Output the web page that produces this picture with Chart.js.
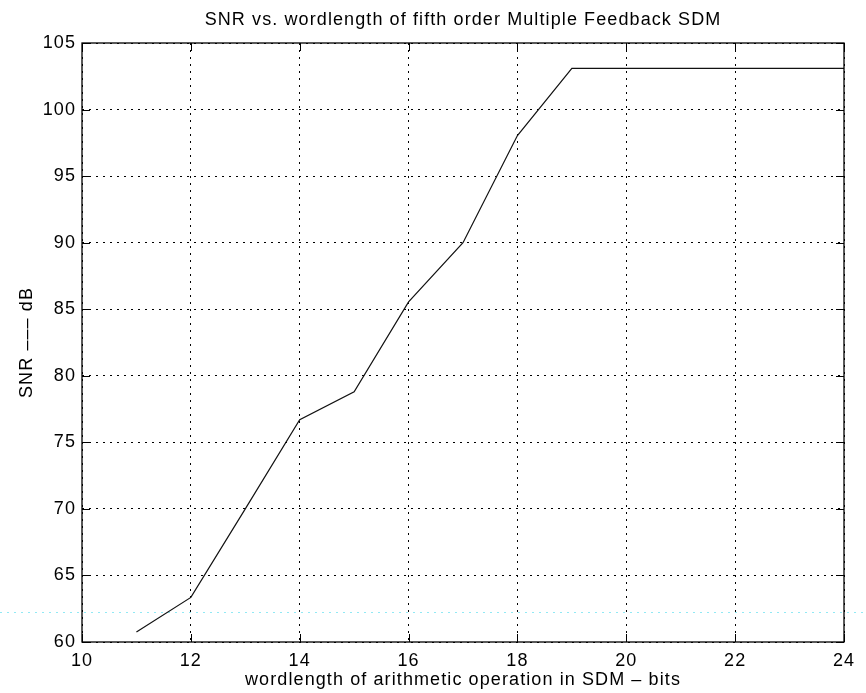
<!DOCTYPE html>
<html>
<head>
<meta charset="utf-8">
<script src="https://cdn.jsdelivr.net/npm/chart.js@4/dist/chart.umd.min.js"></script>
<style>
  html, body { margin: 0; padding: 0; background: #fff; }
  #wrap { width: 866px; height: 693px; }
</style>
</head>
<body>
<div id="wrap"><canvas id="snrChart"></canvas></div>
<script>
// --- dados ---
const wordlengths = [11, 12, 13, 14, 15, 16, 17, 18, 19, 20, 21, 22, 23, 24];
const snrValues = [60.75, 63.35, 70.0, 76.7, 78.8, 85.55, 90.0, 98.05, 103.1, 103.1, 103.1, 103.1, 103.1, 103.1];
const xTicks = [10, 12, 14, 16, 18, 20, 22, 24];
const yTicks = [60, 65, 70, 75, 80, 85, 90, 95, 100, 105];
const scanArtifactLevel = 62.25; // linha ciano clarinha da digitalização

const FONT = "'Liberation Sans', Arial, Helvetica, sans-serif";

// moldura + marcas de escala para dentro (estilo MATLAB)
const matlabBox = {
  id: 'matlabBox',
  beforeInit(chart) {
    chart.ctx.letterSpacing = '1.1px'; // fonte do original é mais espaçada
  },
  beforeDraw(chart) {
    const { ctx, scales: { y }, width } = chart;
    ctx.letterSpacing = '1.1px';
    const yy = Math.round(y.getPixelForValue(scanArtifactLevel)) + 0.5;
    ctx.save();
    ctx.strokeStyle = 'rgba(110, 225, 240, 0.75)';
    ctx.lineWidth = 1;
    ctx.setLineDash([2, 5]);
    ctx.beginPath();
    ctx.moveTo(0, yy);
    ctx.lineTo(width, yy);
    ctx.stroke();
    ctx.restore();
  },
  afterDatasetsDraw(chart) {
    const { ctx, chartArea: a, scales: { x, y } } = chart;
    const len = 8;
    ctx.save();
    ctx.strokeStyle = '#000';
    ctx.lineWidth = 1;
    ctx.setLineDash([]);
    ctx.beginPath();
    xTicks.forEach(v => {
      const px = Math.round(x.getPixelForValue(v)) + 0.5;
      ctx.moveTo(px, a.bottom); ctx.lineTo(px, a.bottom - len);
      ctx.moveTo(px, a.top); ctx.lineTo(px, a.top + len);
    });
    yTicks.forEach(v => {
      const py = Math.round(y.getPixelForValue(v)) + 0.5;
      ctx.moveTo(a.left, py); ctx.lineTo(a.left + len, py);
      ctx.moveTo(a.right, py); ctx.lineTo(a.right - len, py);
    });
    ctx.stroke();
    ctx.lineWidth = 1.3;
    ctx.strokeRect(a.left, a.top, a.right - a.left, a.bottom - a.top);
    ctx.restore();
  }
};

const ctx = document.getElementById('snrChart').getContext('2d');
const chart = new Chart(ctx, {
  type: 'line',
  data: {
    datasets: [{
      data: wordlengths.map((w, i) => ({ x: w, y: snrValues[i] })),
      borderColor: '#111',
      borderWidth: 1.2,
      pointRadius: 0,
      tension: 0,
      fill: false
    }]
  },
  options: {
    responsive: true,
    maintainAspectRatio: false,
    animation: false,
    layout: { padding: { left: 0, right: 22, top: 0, bottom: 0 } },
    plugins: {
      legend: { display: false },
      tooltip: { enabled: false },
      title: {
        display: true,
        fullSize: false, // centra o título sobre a área dos eixos
        text: 'SNR vs. wordlength of fifth order Multiple Feedback SDM',
        color: '#000',
        font: { family: FONT, size: 18, weight: 'normal', lineHeight: 1.2 },
        padding: { top: 9, bottom: 12.4 }
      }
    },
    scales: {
      x: {
        type: 'linear',
        min: 10, max: 24,
        afterBuildTicks: s => { s.ticks = xTicks.map(v => ({ value: v })); },
        afterFit: s => { s.height = 51; },
        grid: { color: '#000', drawTicks: false, lineWidth: 1 },
        border: { display: false, dash: [2, 5] },
        ticks: { color: '#000', padding: 8, maxRotation: 0, font: { family: FONT, size: 18 } },
        title: {
          display: true,
          text: 'wordlength of arithmetic operation in SDM \u2013 bits',
          color: '#000',
          font: { family: FONT, size: 18, lineHeight: 1.2 },
          padding: { top: 0, bottom: 2.2 }
        }
      },
      y: {
        type: 'linear',
        min: 60, max: 105,
        afterBuildTicks: s => { s.ticks = yTicks.map(v => ({ value: v })); },
        afterFit: s => { s.width = 82; },
        grid: { color: '#000', drawTicks: false, lineWidth: 1 },
        border: { display: false, dash: [2, 5] },
        ticks: { color: '#000', padding: 6, font: { family: FONT, size: 18 } },
        title: {
          display: true,
          text: 'SNR \u2013\u2013\u2013 dB',
          color: '#000',
          font: { family: FONT, size: 18, lineHeight: 1.2 },
          padding: { top: 16.7, bottom: 0 }
        }
      }
    }
  },
  plugins: [matlabBox]
});
</script>
</body>
</html>
